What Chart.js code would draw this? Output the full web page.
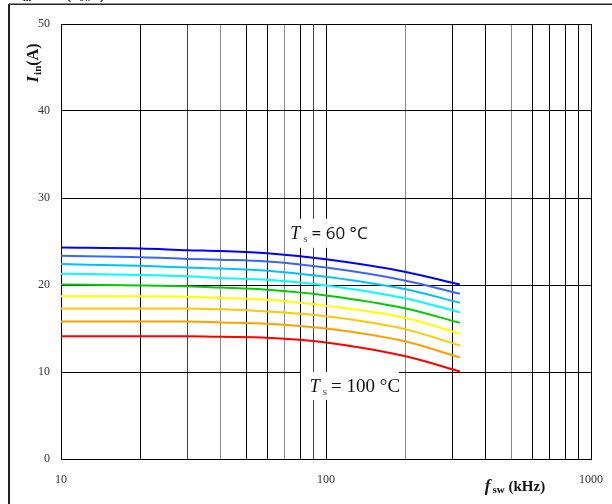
<!DOCTYPE html>
<html>
<head>
<meta charset="utf-8">
<script src="https://cdn.jsdelivr.net/npm/chart.js@4.4.1/dist/chart.umd.min.js"></script>
<style>
  html, body { margin: 0; padding: 0; background: #fff; }
  #wrap { position: relative; width: 612px; height: 504px; }
  canvas { display: block; }
</style>
</head>
<body>
<div id="wrap"><canvas id="c" width="612" height="504"></canvas></div>
<script>
// ---- data ----
const freqs = [10, 20, 30, 40, 60, 100, 200, 320];           // kHz
const ts60  = [24.3, 24.2, 24.0, 23.9, 23.65, 22.95, 21.5, 20.05];
const ts65  = [23.35, 23.2, 23.0, 22.9, 22.7, 22.0, 20.5, 19.0];
const ts70  = [22.4, 22.2, 22.0, 21.9, 21.65, 20.95, 19.5, 17.95];
const ts75  = [21.3, 21.15, 21.0, 20.8, 20.6, 19.95, 18.45, 16.85];
const ts80  = [20.05, 19.95, 19.85, 19.7, 19.45, 18.8, 17.3, 15.65];
const ts85  = [18.7, 18.7, 18.65, 18.5, 18.3, 17.6, 16.2, 14.4];
const ts90  = [17.3, 17.3, 17.3, 17.2, 16.95, 16.4, 14.9, 13.05];
const ts95  = [15.8, 15.8, 15.8, 15.7, 15.55, 15.0, 13.5, 11.65];
const ts100 = [14.1, 14.1, 14.1, 14.05, 13.95, 13.4, 11.8, 10.05];
const seriesColors = ['#0000ff', '#3a66ff', '#00c0ff', '#00ffff', '#00cc00', '#ffff00', '#ffc800', '#ff9f00', '#ff0000'];
const xTickValues = [10,20,30,40,50,60,70,80,90,100,200,300,400,500,600,700,800,900,1000];
const xTickLabels = ['10','100','1000'];
const yTickValues = [0,10,20,30,40,50];
const grayGrid = [40, 70, 200, 500];
const darkGrayGrid = [30, 90];

const allSeries = [ts60, ts65, ts70, ts75, ts80, ts85, ts90, ts95, ts100];

const datasets = allSeries.map((s, i) => ({
  data: freqs.map((f, j) => ({ x: f, y: s[j] })),
  borderColor: seriesColors[i],
  borderWidth: 2,
  pointRadius: 0,
  fill: false,
  cubicInterpolationMode: 'monotone'
}));

// labels anchored in data space
const label60  = { x: 102.6, y: 26.0 };
const label100 = { x: 128.6, y: 8.4 };

const decorPlugin = {
  id: 'decor',
  afterDatasetsDraw(chart) {
    const ctx = chart.ctx;
    const xs = chart.scales.x, ys = chart.scales.y;
    function drawTempLabel(anchor, valueText, valueFont, box) {
      const cx = xs.getPixelForValue(anchor.x);
      const cy = ys.getPixelForValue(anchor.y);
      ctx.save();
      ctx.fillStyle = '#fff';
      ctx.fillRect(cx + box[0], cy + box[1], box[2], box[3]);
      ctx.fillStyle = '#111';
      ctx.textBaseline = 'alphabetic';
      const fT = 'italic 18px "Liberation Serif"';
      const fS = '11px "Liberation Serif"';
      ctx.font = fT; const wT = ctx.measureText('T').width;
      ctx.font = fS; const wS = ctx.measureText('s').width;
      ctx.font = valueFont; const wV = ctx.measureText(valueText).width;
      const total = wT + 3 + wS + 4 + wV;
      let x = cx - total / 2;
      const base = cy + 6;
      ctx.font = fT; ctx.fillText('T', x, base); x += wT + 3;
      ctx.font = fS; ctx.fillStyle = '#555'; ctx.fillText('s', x, base + 3); x += wS + 4;
      ctx.fillStyle = '#111';
      ctx.font = valueFont; ctx.fillText(valueText, x, base);
      ctx.restore();
    }
    drawTempLabel(label60, '= 60 °C', '17px "Open Sans"', [-42, -14, 112, 29]);
    drawTempLabel(label100, '= 100 °C', '19px "Liberation Serif"', [-54, -14, 98, 28]);
  },
  afterDraw(chart) {
    const ctx = chart.ctx;
    ctx.save();
    // outer frame
    ctx.strokeStyle = '#222';
    ctx.lineWidth = 2;
    ctx.beginPath();
    ctx.moveTo(9, 504); ctx.lineTo(9, 4); ctx.stroke();
    ctx.lineWidth = 1.5;
    ctx.beginPath();
    ctx.moveTo(9, 4.25); ctx.lineTo(612, 4.25); ctx.stroke();

    // clipped title at top: I_in = f(f_sw)
    ctx.fillStyle = '#111';
    ctx.textBaseline = 'alphabetic';
    ctx.font = 'italic bold 15px "Liberation Serif"';
    ctx.fillText('I', 16, -3);
    ctx.font = 'bold 10px "Liberation Serif"';
    ctx.fillText('in', 23, 1);
    ctx.font = 'bold 15px "Liberation Serif"';
    ctx.fillText('= ', 40, -3);
    ctx.font = 'italic bold 15px "Liberation Serif"';
    ctx.fillText('f', 56, -3);
    ctx.font = 'bold 15px "Liberation Serif"';
    ctx.fillText('(', 66, -1);
    ctx.font = 'italic bold 15px "Liberation Serif"';
    ctx.fillText('f', 73, -3);
    ctx.font = 'bold 10px "Liberation Serif"';
    ctx.fillText('sw', 80, 1);
    ctx.font = 'bold 15px "Liberation Serif"';
    ctx.fillText(')', 100, -1);

    // y axis title I_in(A)
    ctx.save();
    ctx.translate(38, 63);
    ctx.rotate(-Math.PI / 2);
    ctx.font = 'italic bold 17px "Liberation Serif"';
    const wI = ctx.measureText('I').width;
    ctx.font = 'bold 11px "Liberation Serif"';
    const wIn = ctx.measureText('in').width;
    ctx.font = 'bold 16px "Liberation Serif"';
    const wA = ctx.measureText('(A)').width;
    let x = -(wI + wIn + 1 + wA) / 2;
    ctx.font = 'italic bold 17px "Liberation Serif"';
    ctx.fillText('I', x, 0); x += wI + 1;
    ctx.font = 'bold 11px "Liberation Serif"';
    ctx.fillText('in', x, 3); x += wIn;
    ctx.font = 'bold 16px "Liberation Serif"';
    ctx.fillText('(A)', x, 0);
    ctx.restore();

    // x axis title f_sw (kHz)
    ctx.font = 'italic bold 17px "Liberation Serif"';
    const wf = ctx.measureText('f').width;
    ctx.font = 'bold 11px "Liberation Serif"';
    const wsw = ctx.measureText('sw').width;
    ctx.font = 'bold 15px "Liberation Serif"';
    const wk = ctx.measureText(' (kHz)').width;
    let xx = 515 - (wf + 2 + wsw + wk) / 2;
    const by = 491;
    ctx.font = 'italic bold 17px "Liberation Serif"';
    ctx.fillText('f', xx, by); xx += wf + 2;
    ctx.font = 'bold 11px "Liberation Serif"';
    ctx.fillText('sw', xx, by + 2); xx += wsw;
    ctx.font = 'bold 15px "Liberation Serif"';
    ctx.fillText(' (kHz)', xx, by);
    ctx.restore();
  }
};

new Chart(document.getElementById('c'), {
  type: 'line',
  data: { datasets },
  options: {
    responsive: false,
    animation: false,
    devicePixelRatio: 1,
    layout: { padding: { left: 0, right: 21, top: 24, bottom: 0 } },
    plugins: { legend: { display: false }, tooltip: { enabled: false }, title: { display: false } },
    scales: {
      x: {
        type: 'logarithmic',
        min: 10, max: 1000,
        afterBuildTicks(scale) { scale.ticks = xTickValues.map(v => ({ value: v })); },
        afterFit(scale) { scale.height = 45; scale.paddingLeft = 0; scale.paddingRight = 0; },
        border: { display: true, color: '#000', width: 1 },
        grid: {
          color: ctx => {
            const v = ctx.tick ? ctx.tick.value : null;
            if (grayGrid.includes(v)) return '#8a8a8a';
            if (darkGrayGrid.includes(v)) return '#444';
            return '#000';
          },
          lineWidth: 1,
          drawTicks: false
        },
        ticks: {
          autoSkip: false,
          maxRotation: 0,
          padding: 14,
          color: '#333',
          font: { family: '"Liberation Serif"', size: 12 },
          callback: (v) => xTickLabels.includes(String(v)) ? String(v) : ''
        }
      },
      y: {
        min: 0, max: 50,
        afterBuildTicks(scale) { scale.ticks = yTickValues.map(v => ({ value: v })); },
        afterFit(scale) { scale.width = 61; scale.paddingTop = 0; scale.paddingBottom = 0; },
        border: { display: true, color: '#000', width: 1 },
        grid: { color: '#000', lineWidth: 1, drawTicks: false },
        ticks: {
          padding: 11,
          color: '#333',
          font: { family: '"Liberation Serif"', size: 12 }
        }
      }
    }
  },
  plugins: [decorPlugin]
});
</script>
</body>
</html>
